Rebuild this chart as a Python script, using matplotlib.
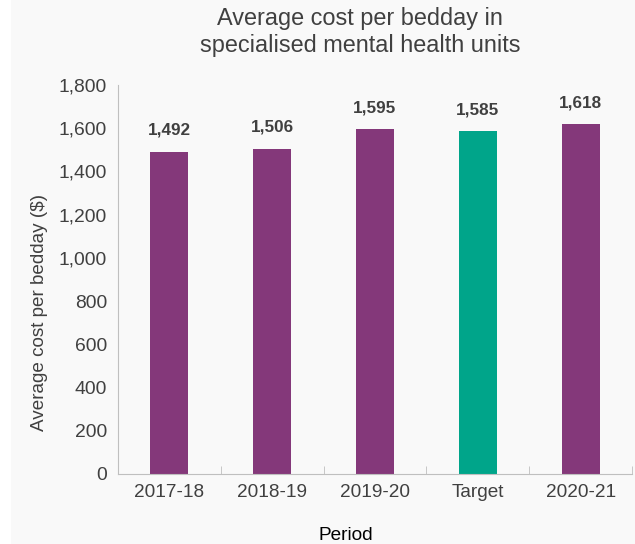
import matplotlib as mpl
mpl.use('Agg')
import matplotlib.pyplot as plt
from matplotlib.patches import Rectangle
from matplotlib.ticker import FuncFormatter

plt.rcParams['font.family'] = ['Liberation Sans', 'DejaVu Sans']

periods = ['2017-18', '2018-19', '2019-20', 'Target', '2020-21']
cost = [1492, 1506, 1595, 1585, 1618]
bar_colors = ['#84387a', '#84387a', '#84387a', '#00a58a', '#84387a']

text_col = '#404040'
bg = '#f9f9f9'

fig = plt.figure(figsize=(6.35, 5.44), dpi=100)
fig.patches.append(Rectangle((11 / 635, 0), 1, 1, transform=fig.transFigure,
                             facecolor=bg, edgecolor='none', zorder=-10))
ax = fig.add_axes([118 / 635, 1 - 474 / 544, 514 / 635, 389 / 544])
ax.set_facecolor(bg)

x = list(range(len(periods)))
ax.bar(x, cost, width=0.37, color=bar_colors)
for xi, v in zip(x, cost):
    ax.annotate(f'{v:,}', (xi, v), xytext=(0, 10), textcoords='offset points',
                ha='center', va='bottom', fontsize=12.3, fontweight='bold', color=text_col)

ax.set_xlim(-0.5, len(periods) - 0.5)
ax.set_ylim(0, 1800)
ax.set_yticks(range(0, 1801, 200))
ax.yaxis.set_major_formatter(FuncFormatter(lambda v, p: f'{int(v):,}'))
ax.set_xticks(x)
ax.set_xticklabels(periods)
ax.set_xticks([i - 0.5 for i in range(len(periods) + 1)], minor=True)
ax.tick_params(axis='x', which='major', length=0, pad=7, labelsize=13.7, labelcolor=text_col)
ax.tick_params(axis='x', which='minor', direction='in', length=6, color='#bfbfbf')
ax.tick_params(axis='y', length=0, pad=8, labelsize=13.9, labelcolor=text_col)

for s in ['top', 'right']:
    ax.spines[s].set_visible(False)
ax.spines['left'].set_color('#bfbfbf')
ax.spines['bottom'].set_color('#bfbfbf')

ax.set_ylabel('Average cost per bedday ($)', fontsize=13.6, color=text_col)
ax.yaxis.set_label_coords(-0.137, 0.416)
ax.set_xlabel('Period', fontsize=13.7, color='black')
ax.xaxis.set_label_coords(0.444, -0.135)

fig.text(360 / 635, 1 - 32 / 544, 'Average cost per bedday in\nspecialised mental health units',
         ha='center', va='center', fontsize=16.9, color=text_col, linespacing=1.23)

fig.savefig('out.png', dpi=100, facecolor='white')
